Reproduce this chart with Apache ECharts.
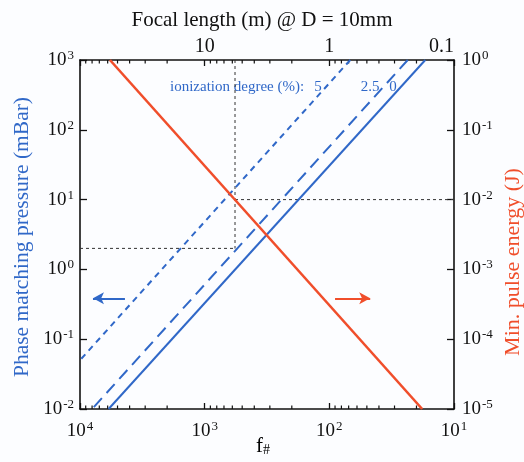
<!DOCTYPE html>
<html><head><meta charset="utf-8">
<script src="https://cdn.jsdelivr.net/npm/echarts@6/dist/echarts.min.js"></script>
<style>html,body{margin:0;padding:0;background:#fcfdff}#c{width:524px;height:462px}</style>
</head><body><div id="c"></div>
<script>
// ---- data ----
const fNumberRange = [10, 10000];          // bottom axis f#
const focalRange = [0.1, 100];             // top axis focal length (m), D = 10 mm
const pressureRange = [0.01, 1000];        // left axis (mBar)
const energyRange = [1e-5, 1];             // right axis (J)
const topTickLabels = {'-1': '0.1', '0': '1', '1': '10', '2': ''};
const minorTickValues = [20,30,40,50,60,70,80,90,200,300,400,500,600,700,800,900,2000,3000,4000,5000,6000,7000,8000,9000];
const energyLine = [[5750, 1], [18, 1e-5]];            // min pulse energy vs f#
const pressure0 = [[17, 1000], [5900, 0.01]];           // 0 % ionization
const pressure25 = [[23.5, 1000], [8000, 0.01]];        // 2.5 % ionization
const pressure5 = [[68, 1000], [10000, 0.05]];          // 5 % ionization
const guideF = 571, guideP = 2, guideE = 0.01;
const blueArrow = [[4360, 0.385], [7870, 0.385]];
const redArrow = [[90, 0.385], [47, 0.385]];
const degreeTitle = 'ionization degree (%):';
const degreeLabels = ['5', '2.5', '0'];

const BLUE = '#3068c8', RED = '#f04e2b', FONT = 'Liberation Serif';
const expFmt = v => '{b|10}{s|' + Math.round(Math.log10(v)) + '}';
const richNum = {
  b: {fontFamily: FONT, fontSize: 19, color: '#111', lineHeight: 22},
  s: {fontFamily: FONT, fontSize: 13, color: '#111', verticalAlign: 'top', lineHeight: 22, padding: [0,0,0,1]}
};
const axisLineStyle = {show: true, lineStyle: {color: '#111', width: 1.6}};

const chart = echarts.init(document.getElementById('c'), null, {renderer: 'canvas'});
const dashedGuide = (data, yIdx) => ({
  type: 'line', xAxisIndex: 0, yAxisIndex: yIdx, data, symbol: 'none', silent: true,
  lineStyle: {color: '#333', width: 1, type: [3, 3]}
});
const option = {
  backgroundColor: '#fcfdff',
  animation: false,
  title: {text: 'Focal length (m) @ D = 10mm', left: 'center', top: 5,
    textStyle: {fontFamily: FONT, fontSize: 21, fontWeight: 'normal', color: '#111'}},
  grid: {left: 80, right: 70, top: 60, bottom: 53},
  xAxis: [
    {type: 'log', logBase: 10, min: fNumberRange[0], max: fNumberRange[1], inverse: true, position: 'bottom',
     axisLine: axisLineStyle, splitLine: {show: false},
     axisTick: {inside: true, length: 6, lineStyle: {color: '#111', width: 1.3}},
     axisLabel: {margin: 11, formatter: expFmt, rich: richNum}},
    {type: 'log', logBase: 10, min: focalRange[0], max: focalRange[1], inverse: true, position: 'top',
     axisLine: axisLineStyle, splitLine: {show: false},
     axisTick: {inside: true, length: 6, lineStyle: {color: '#111', width: 1.3}},
     axisLabel: {margin: 3, alignMinLabel: 'right', fontFamily: FONT, fontSize: 20, color: '#111',
       formatter: v => topTickLabels[String(Math.round(Math.log10(v)))]}}
  ],
  yAxis: [
    {type: 'log', logBase: 10, min: pressureRange[0], max: pressureRange[1], position: 'left',
     axisLine: axisLineStyle, splitLine: {show: false},
     axisTick: {inside: true, length: 7, lineStyle: {color: '#111', width: 1.3}},
     axisLabel: {margin: 6, formatter: expFmt, rich: richNum}},
    {type: 'log', logBase: 10, min: energyRange[0], max: energyRange[1], position: 'right',
     axisLine: axisLineStyle, splitLine: {show: false},
     axisTick: {inside: true, length: 7, lineStyle: {color: '#111', width: 1.3}},
     axisLabel: {margin: 8, formatter: expFmt, rich: richNum}}
  ],
  graphic: [
    {type: 'text', x: 22, y: 237, rotation: Math.PI / 2,
     style: {text: 'Phase matching pressure (mBar)', fill: BLUE, font: '21.5px "Liberation Serif"', align: 'center', verticalAlign: 'middle'}},
    {type: 'text', x: 513, y: 262, rotation: Math.PI / 2,
     style: {text: 'Min. pulse energy (J)', fill: RED, font: '22px "Liberation Serif"', align: 'center', verticalAlign: 'middle'}},
    {type: 'text', x: 263, y: 446,
     style: {text: '{f|f}{h|#}', align: 'center', verticalAlign: 'middle',
       rich: {f: {fontFamily: FONT, fontSize: 21, color: '#111', lineHeight: 22},
              h: {fontFamily: FONT, fontSize: 14, color: '#111', verticalAlign: 'bottom', lineHeight: 22, padding: [8,0,0,0]}}}},
    {type: 'text', x: 170, y: 87,
     style: {text: degreeTitle, fill: BLUE, font: '15px "Liberation Serif"', align: 'left', verticalAlign: 'middle'}},
    {type: 'text', x: 318, y: 87, style: {text: degreeLabels[0], fill: BLUE, font: '15px "Liberation Serif"', align: 'center', verticalAlign: 'middle'}},
    {type: 'text', x: 370, y: 87, style: {text: degreeLabels[1], fill: BLUE, font: '15px "Liberation Serif"', align: 'center', verticalAlign: 'middle'}},
    {type: 'text', x: 393, y: 87, style: {text: degreeLabels[2], fill: BLUE, font: '15px "Liberation Serif"', align: 'center', verticalAlign: 'middle'}}
  ],
  series: [
    dashedGuide([[guideF, pressureRange[1]], [guideF, guideP]], 0),
    dashedGuide([[fNumberRange[1], guideP], [guideF, guideP]], 0),
    dashedGuide([[guideF, guideE], [fNumberRange[0], guideE]], 1),
    {type: 'line', xAxisIndex: 0, yAxisIndex: 0, data: pressure5, symbol: 'none',
     lineStyle: {color: BLUE, width: 2, type: [6, 5]}},
    {type: 'line', xAxisIndex: 0, yAxisIndex: 0, data: pressure25, symbol: 'none',
     lineStyle: {color: BLUE, width: 2, type: [12, 7]}},
    {type: 'line', xAxisIndex: 0, yAxisIndex: 0, data: pressure0, symbol: 'none',
     lineStyle: {color: BLUE, width: 2}},
    {type: 'line', xAxisIndex: 0, yAxisIndex: 1, data: energyLine, symbol: 'none',
     lineStyle: {color: RED, width: 2.6}},
    {type: 'line', xAxisIndex: 0, yAxisIndex: 0, data: [], symbol: 'none',
     markLine: {silent: true, symbol: ['none', 'arrow'], symbolSize: [9, 11], label: {show: false},
       data: [
         [{coord: blueArrow[0], lineStyle: {color: BLUE, width: 2, type: 'solid'}}, {coord: blueArrow[1]}],
         [{coord: redArrow[0], lineStyle: {color: RED, width: 2, type: 'solid'}}, {coord: redArrow[1]}]
       ]}},
    {type: 'custom', xAxisIndex: 0, yAxisIndex: 0, clip: false, silent: true,
     data: minorTickValues.map(v => [v, pressureRange[0]]),
     renderItem: (params, api) => {
       const v = api.value(0);
       const b = api.coord([v, pressureRange[0]]);
       const t = api.coord([v, pressureRange[1]]);
       return {type: 'group', children: [
         {type: 'line', shape: {x1: b[0], y1: b[1], x2: b[0], y2: b[1] - 3.5}, style: {stroke: '#111', lineWidth: 1.2}},
         {type: 'line', shape: {x1: t[0], y1: t[1], x2: t[0], y2: t[1] + 3.5}, style: {stroke: '#111', lineWidth: 1.2}}
       ]};
     }}
  ]
};
chart.setOption(option);
</script></body></html>
